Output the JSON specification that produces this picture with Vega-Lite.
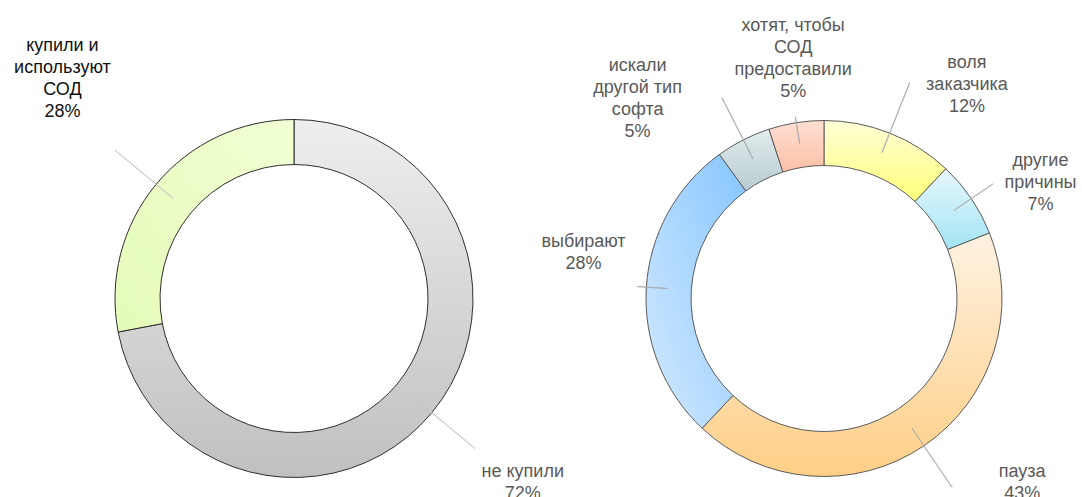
{
  "$schema": "https://vega.github.io/schema/vega-lite/v6.json",
  "padding": 0,
  "spacing": 0,
  "bounds": "flush",
  "background": "white",
  "config": {"view": {"stroke": null}},
  "datasets": {
    "rows": [
      {"chart": "A", "cat": "не купили", "value": 72, "order": 1, "label": ["не купили", "72%"]},
      {"chart": "A", "cat": "купили", "value": 28, "order": 2, "label": ["купили и", "используют", "СОД", "28%"]},
      {"chart": "B", "cat": "воля", "value": 12, "order": 1, "label": ["воля", "заказчика", "12%"]},
      {"chart": "B", "cat": "другие", "value": 7, "order": 2, "label": ["другие", "причины", "7%"]},
      {"chart": "B", "cat": "пауза", "value": 43, "order": 3, "label": ["пауза", "43%"]},
      {"chart": "B", "cat": "выбирают", "value": 28, "order": 4, "label": ["выбирают", "28%"]},
      {"chart": "B", "cat": "искали", "value": 5, "order": 5, "label": ["искали", "другой тип", "софта", "5%"]},
      {"chart": "B", "cat": "хотят", "value": 5, "order": 6, "label": ["хотят, чтобы", "СОД", "предоставили", "5%"]}
    ]
  },
  "hconcat": [
    {
      "width": 588,
      "height": 597,
      "data": {"name": "rows"},
      "transform": [
        {"filter": "datum.chart === 'A'"},
        {"stack": "value", "groupby": [], "sort": [{"field": "order", "order": "ascending"}], "as": ["v0", "v1"]},
        {"calculate": "(datum.v0 + datum.v1) / 2", "as": "mid"},
        {"calculate": "datum.mid + 0.03", "as": "midB"}
      ],
      "layer": [
        {
          "mark": {"type": "arc", "radius": 179, "radius2": 134, "stroke": "#2e2e2e", "strokeWidth": 1},
          "encoding": {
            "theta": {"field": "v0", "type": "quantitative", "scale": {"domain": [0, 100]}},
            "theta2": {"field": "v1"},
            "fill": {
              "condition": [
                {"test": "datum.cat === 'не купили'", "value": {"gradient": "linear", "x1": 0, "y1": 0, "x2": 0, "y2": 1, "stops": [{"offset": 0, "color": "#eeeeee"}, {"offset": 1, "color": "#c0c0c0"}]}},
                {"test": "datum.cat === 'купили'", "value": {"gradient": "linear", "x1": 1, "y1": 0, "x2": 0, "y2": 1, "stops": [{"offset": 0, "color": "#f1ffd4"}, {"offset": 1, "color": "#e4fbb8"}]}}
              ],
              "value": "#dddddd"
            }
          }
        },
        {
          "transform": [{"filter": "datum.cat === 'купили'"}],
          "layer": [
            {
              "mark": {"type": "arc", "radius": 232, "radius2": 157, "filled": false, "stroke": "#c4c4c4", "strokeWidth": 0.8},
              "encoding": {"theta": {"field": "mid", "type": "quantitative", "scale": {"domain": [0, 100]}}, "theta2": {"field": "midB"}}
            },
            {
              "mark": {"type": "text", "radius": 320, "dx": 15, "dy": -49, "font": "Liberation Sans", "fontSize": 18, "lineHeight": 22, "align": "center", "baseline": "middle", "color": "#111111"},
              "encoding": {"theta": {"field": "mid", "type": "quantitative", "scale": {"domain": [0, 100]}}, "text": {"field": "label"}}
            }
          ]
        },
        {
          "transform": [{"filter": "datum.cat === 'не купили'"}],
          "layer": [
            {
              "mark": {"type": "arc", "radius": 235, "radius2": 157, "filled": false, "stroke": "#c4c4c4", "strokeWidth": 0.8},
              "encoding": {"theta": {"field": "mid", "type": "quantitative", "scale": {"domain": [0, 100]}}, "theta2": {"field": "midB"}}
            },
            {
              "mark": {"type": "text", "radius": 293, "dx": 3, "dy": -13, "font": "Liberation Sans", "fontSize": 18, "lineHeight": 22, "align": "center", "baseline": "middle", "color": "#595959"},
              "encoding": {"theta": {"field": "mid", "type": "quantitative", "scale": {"domain": [0, 100]}}, "text": {"field": "label"}}
            }
          ]
        }
      ]
    },
    {
      "width": 472,
      "height": 597,
      "data": {"name": "rows"},
      "transform": [
        {"filter": "datum.chart === 'B'"},
        {"stack": "value", "groupby": [], "sort": [{"field": "order", "order": "ascending"}], "as": ["v0", "v1"]},
        {"calculate": "(datum.v0 + datum.v1) / 2", "as": "mid"},
        {"calculate": "datum.mid + 0.03", "as": "midB"}
      ],
      "layer": [
        {
          "mark": {"type": "arc", "radius": 178, "radius2": 133, "stroke": "#5a5a5a", "strokeWidth": 1},
          "encoding": {
            "theta": {"field": "v0", "type": "quantitative", "scale": {"domain": [0, 100]}},
            "theta2": {"field": "v1"},
            "fill": {
              "condition": [
                {"test": "datum.cat === 'воля'", "value": {"gradient": "linear", "x1": 0, "y1": 0, "x2": 0, "y2": 1, "stops": [{"offset": 0, "color": "#ffffd8"}, {"offset": 1, "color": "#ffff78"}]}},
                {"test": "datum.cat === 'другие'", "value": {"gradient": "linear", "x1": 0, "y1": 0, "x2": 0, "y2": 1, "stops": [{"offset": 0, "color": "#e6f7fc"}, {"offset": 1, "color": "#a4e4f4"}]}},
                {"test": "datum.cat === 'пауза'", "value": {"gradient": "linear", "x1": 0, "y1": 0, "x2": 0, "y2": 1, "stops": [{"offset": 0, "color": "#fff2e2"}, {"offset": 1, "color": "#ffcf86"}]}},
                {"test": "datum.cat === 'выбирают'", "value": {"gradient": "linear", "x1": 1, "y1": 0, "x2": 0, "y2": 1, "stops": [{"offset": 0, "color": "#86c6ff"}, {"offset": 1, "color": "#d4eaff"}]}},
                {"test": "datum.cat === 'искали'", "value": {"gradient": "linear", "x1": 0, "y1": 0, "x2": 0, "y2": 1, "stops": [{"offset": 0, "color": "#e2eced"}, {"offset": 1, "color": "#b8ccd1"}]}},
                {"test": "datum.cat === 'хотят'", "value": {"gradient": "linear", "x1": 0, "y1": 0, "x2": 0, "y2": 1, "stops": [{"offset": 0, "color": "#ffe0d3"}, {"offset": 1, "color": "#fcbfa6"}]}}
              ],
              "value": "#dddddd"
            }
          }
        },
        {
          "transform": [{"filter": "datum.cat === 'воля'"}],
          "layer": [
            {"mark": {"type": "arc", "radius": 232, "radius2": 157, "filled": false, "stroke": "#a8a8a8", "strokeWidth": 0.8},
             "encoding": {"theta": {"field": "mid", "type": "quantitative", "scale": {"domain": [0, 100]}}, "theta2": {"field": "midB"}}},
            {"mark": {"type": "text", "radius": 258, "dx": 48, "dy": 4, "font": "Liberation Sans", "fontSize": 18, "lineHeight": 22, "align": "center", "baseline": "middle", "color": "#595959"},
             "encoding": {"theta": {"field": "mid", "type": "quantitative", "scale": {"domain": [0, 100]}}, "text": {"field": "label"}}}
          ]
        },
        {
          "transform": [{"filter": "datum.cat === 'другие'"}],
          "layer": [
            {"mark": {"type": "arc", "radius": 204, "radius2": 157, "filled": false, "stroke": "#a8a8a8", "strokeWidth": 0.8},
             "encoding": {"theta": {"field": "mid", "type": "quantitative", "scale": {"domain": [0, 100]}}, "theta2": {"field": "midB"}}},
            {"mark": {"type": "text", "radius": 246, "dx": 13, "dy": 1, "font": "Liberation Sans", "fontSize": 18, "lineHeight": 22, "align": "center", "baseline": "middle", "color": "#595959"},
             "encoding": {"theta": {"field": "mid", "type": "quantitative", "scale": {"domain": [0, 100]}}, "text": {"field": "label"}}}
          ]
        },
        {
          "transform": [{"filter": "datum.cat === 'пауза'"}],
          "layer": [
            {"mark": {"type": "arc", "radius": 228, "radius2": 157, "filled": false, "stroke": "#a8a8a8", "strokeWidth": 0.8},
             "encoding": {"theta": {"field": "mid", "type": "quantitative", "scale": {"domain": [0, 100]}}, "theta2": {"field": "midB"}}},
            {"mark": {"type": "text", "radius": 269, "dx": 47, "dy": -49, "font": "Liberation Sans", "fontSize": 18, "lineHeight": 22, "align": "center", "baseline": "middle", "color": "#595959"},
             "encoding": {"theta": {"field": "mid", "type": "quantitative", "scale": {"domain": [0, 100]}}, "text": {"field": "label"}}}
          ]
        },
        {
          "transform": [{"filter": "datum.cat === 'выбирают'"}],
          "layer": [
            {"mark": {"type": "arc", "radius": 187, "radius2": 157, "filled": false, "stroke": "#a8a8a8", "strokeWidth": 0.8},
             "encoding": {"theta": {"field": "mid", "type": "quantitative", "scale": {"domain": [0, 100]}}, "theta2": {"field": "midB"}}},
            {"mark": {"type": "text", "radius": 246, "dx": 5, "dy": -41, "font": "Liberation Sans", "fontSize": 18, "lineHeight": 22, "align": "center", "baseline": "middle", "color": "#595959"},
             "encoding": {"theta": {"field": "mid", "type": "quantitative", "scale": {"domain": [0, 100]}}, "text": {"field": "label"}}}
          ]
        },
        {
          "transform": [{"filter": "datum.cat === 'искали'"}],
          "layer": [
            {"mark": {"type": "arc", "radius": 225, "radius2": 157, "filled": false, "stroke": "#a8a8a8", "strokeWidth": 0.8},
             "encoding": {"theta": {"field": "mid", "type": "quantitative", "scale": {"domain": [0, 100]}}, "theta2": {"field": "midB"}}},
            {"mark": {"type": "text", "radius": 274, "dx": -62, "dy": 12, "font": "Liberation Sans", "fontSize": 18, "lineHeight": 22, "align": "center", "baseline": "middle", "color": "#595959"},
             "encoding": {"theta": {"field": "mid", "type": "quantitative", "scale": {"domain": [0, 100]}}, "text": {"field": "label"}}}
          ]
        },
        {
          "transform": [{"filter": "datum.cat === 'хотят'"}],
          "layer": [
            {"mark": {"type": "arc", "radius": 184, "radius2": 157, "filled": false, "stroke": "#a8a8a8", "strokeWidth": 0.8},
             "encoding": {"theta": {"field": "mid", "type": "quantitative", "scale": {"domain": [0, 100]}}, "theta2": {"field": "midB"}}},
            {"mark": {"type": "text", "radius": 242, "dx": 7, "dy": -33, "font": "Liberation Sans", "fontSize": 18, "lineHeight": 22, "align": "center", "baseline": "middle", "color": "#595959"},
             "encoding": {"theta": {"field": "mid", "type": "quantitative", "scale": {"domain": [0, 100]}}, "text": {"field": "label"}}}
          ]
        }
      ]
    }
  ]
}
